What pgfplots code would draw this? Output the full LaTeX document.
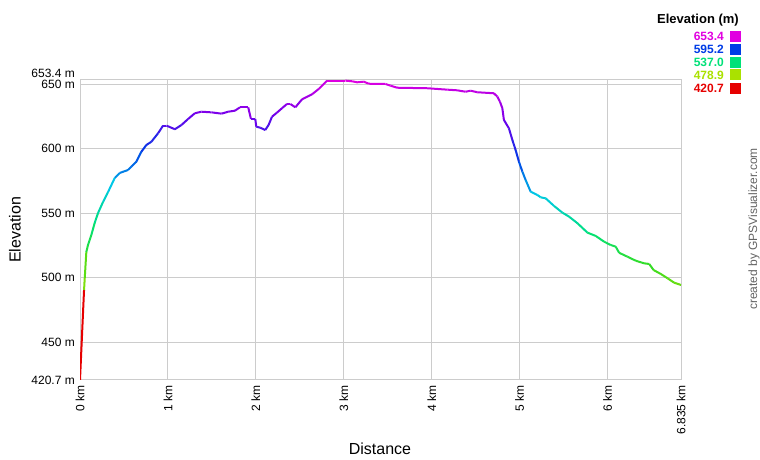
\documentclass[border=0pt]{standalone}
\usepackage{fontspec}
\setmainfont{Liberation Sans}
\usepackage{pgfplots}
\usepackage{pgfplotstable}
\pgfplotsset{compat=1.18}
\definecolor{gridgray}{RGB}{204,204,204}
\definecolor{credit}{RGB}{100,100,100}
\definecolor{c1}{RGB}{225,0,225}
\definecolor{c2}{RGB}{0,60,230}
\definecolor{c3}{RGB}{0,225,120}
\definecolor{c4}{RGB}{170,225,0}
\definecolor{c5}{RGB}{230,0,0}
\pgfplotsset{colormap={gps}{rgb255=(230,0,0) rgb255=(200,112,0) rgb255=(170,225,0)
  rgb255=(60,220,30) rgb255=(0,225,120) rgb255=(0,200,230) rgb255=(0,60,230)
  rgb255=(110,0,235) rgb255=(225,0,225)}}

% distance (km), elevation (m)
\pgfplotstableread{
d e
0.000 420.7
0.046 490.5
0.054 499.8
0.072 520.0
0.091 525.4
0.129 533.2
0.167 542.5
0.205 550.2
0.262 558.8
0.319 566.5
0.395 577.4
0.452 581.3
0.547 583.6
0.584 586.2
0.641 590.0
0.698 597.8
0.755 603.0
0.812 605.5
0.888 612.1
0.945 618.0
0.983 618.0
1.079 615.2
1.154 618.5
1.230 623.2
1.306 627.6
1.382 628.8
1.495 628.3
1.609 627.3
1.686 628.8
1.762 629.6
1.819 632.2
1.913 632.2
1.944 623.2
1.993 623.2
2.005 617.2
2.050 616.4
2.107 614.6
2.145 618.5
2.183 624.9
2.240 628.1
2.297 631.5
2.354 634.8
2.392 634.8
2.449 632.2
2.525 638.4
2.639 642.3
2.714 646.4
2.810 652.9
3.018 652.9
3.095 652.4
3.152 651.6
3.227 652.1
3.284 650.5
3.474 650.3
3.531 649.0
3.607 647.4
3.949 647.0
4.177 645.9
4.290 645.4
4.385 644.3
4.442 645.1
4.518 643.9
4.707 643.1
4.746 640.5
4.776 636.6
4.803 631.5
4.821 622.4
4.878 615.9
4.917 606.9
4.954 599.1
4.992 590.0
5.031 582.3
5.068 575.8
5.125 566.8
5.202 564.2
5.239 562.4
5.296 561.6
5.391 555.7
5.486 550.5
5.562 547.4
5.657 542.3
5.771 535.0
5.866 532.4
5.960 528.0
6.036 525.4
6.093 524.1
6.131 519.4
6.227 516.3
6.321 513.2
6.416 511.2
6.473 510.7
6.523 506.0
6.606 502.9
6.682 499.6
6.757 496.2
6.835 494.4
}\profile

\begin{document}
\begin{tikzpicture}[x=1pt,y=1pt]
\useasboundingbox (0,0) rectangle (760,460);
\begin{axis}[
    at={(80pt,80pt)}, anchor=south west,
    scale only axis, width=601pt, height=300pt,
    xmin=0, xmax=6.835, ymin=420.7, ymax=653.4,
    xtick={0,1,2,3,4,5,6},
    xticklabels={0 km,1 km,2 km,3 km,4 km,5 km,6 km},
    extra x ticks={6.835}, extra x tick labels={6.835 km},
    ytick={420.7,450,500,550,600,650},
    yticklabels={420.7 m,450 m,500 m,550 m,600 m,650 m},
    extra y ticks={653.4}, extra y tick labels={653.4 m},
    extra y tick style={yticklabel style={yshift=7pt}},
    grid=major, major grid style={gridgray, line width=1pt},
    axis line style={gridgray, line width=1pt},
    major tick length=0pt, tick style={draw=none},
    xticklabel shift=5pt, yticklabel shift=5pt,
    xticklabel style={rotate=90, anchor=east, inner sep=0pt, font=\fontsize{12}{14}\selectfont},
    yticklabel style={anchor=east, inner sep=0pt, font=\fontsize{12}{14}\selectfont},
    colormap name=gps, point meta min=420.7, point meta max=653.4,
  ]
  \addplot[mesh, shader=flat corner, point meta=\thisrow{e}, line width=2pt] table[x=d, y=e] {\profile};
\end{axis}
\node[rotate=90, font=\fontsize{16}{18}\selectfont] at (15,230) {Elevation};
\node[font=\fontsize{16}{18}\selectfont] at (380,11) {Distance};
\node[rotate=90, text=credit, font=\fontsize{12}{14}\selectfont] at (754,231) {created by GPSVisualizer.com};
\node[anchor=east, inner sep=0pt, font=\bfseries\fontsize{13}{15}\selectfont] at (739,440) {Elevation (m)};
\foreach \v/\c/\yy in {653.4/c1/423.5, 595.2/c2/410.7, 537.0/c3/397.7, 478.9/c4/385, 420.7/c5/371.7} {
  \node[anchor=east, inner sep=0pt, text=\c, font=\bfseries\fontsize{12}{14}\selectfont] at (724,\yy) {\v};
  \fill[\c] (730,\yy-5.5) rectangle (741,\yy+5.5);
}
\end{tikzpicture}
\end{document}
